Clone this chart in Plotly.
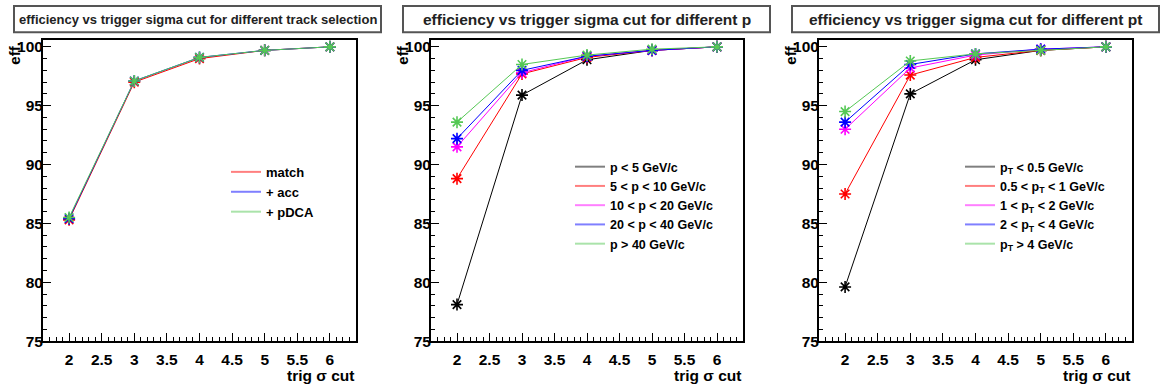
import plotly.graph_objects as go

## sigma cut values (x axis)
sigma_cut = [2, 3, 4, 5, 6]

## panel 1: track selection
sel_names = ['match', '+ acc', '+ pDCA']
sel_match = [85.3, 97.0, 99.0, 99.7, 100.0]
sel_acc = [85.4, 97.1, 99.1, 99.7, 100.0]
sel_pdca = [85.5, 97.1, 99.1, 99.7, 100.0]

## panel 2: p bins
p_names = ['p < 5 GeV/c', '5 < p < 10 GeV/c', '10 < p < 20 GeV/c',
           '20 < p < 40 GeV/c', 'p > 40 GeV/c']
p_lt5 = [78.1, 95.9, 98.9, 99.7, 100.0]
p_5_10 = [88.8, 97.7, 99.1, 99.7, 100.0]
p_10_20 = [91.5, 97.8, 99.2, 99.7, 100.0]
p_20_40 = [92.2, 98.0, 99.2, 99.7, 100.0]
p_gt40 = [93.6, 98.5, 99.3, 99.8, 100.0]

## panel 3: pt bins
pt_names = ['p<sub>T</sub> < 0.5 GeV/c', '0.5 < p<sub>T</sub> < 1 GeV/c',
            '1 < p<sub>T</sub> < 2 GeV/c', '2 < p<sub>T</sub> < 4 GeV/c',
            'p<sub>T</sub> > 4 GeV/c']
pt_lt05 = [79.6, 96.0, 98.9, 99.7, 100.0]
pt_05_1 = [87.5, 97.6, 99.1, 99.7, 100.0]
pt_1_2 = [93.0, 98.2, 99.3, 99.8, 100.0]
pt_2_4 = [93.6, 98.5, 99.4, 99.8, 100.0]
pt_gt4 = [94.5, 98.8, 99.4, 99.7, 100.0]

titles = ['efficiency vs trigger sigma cut for different track selection',
          'efficiency vs trigger sigma cut for different p',
          'efficiency vs trigger sigma cut for different pt']

W, H = 1161, 390
FONT = 'Liberation Sans, Arial, Helvetica, sans-serif'
GREEN = 'rgb(85,200,85)'

## frames in pixels (left, right), shared top/bottom
frames = [(43, 356), (431, 743), (819, 1132)]
top_px, bot_px = 39, 348
title_boxes = [(14, 381), (403, 770), (792, 1159)]

def px(x):
    return x / W

def py(y):
    return 1 - y / H

fig = go.Figure()

panels = [
    (list(zip(sel_names, [sel_match, sel_acc, sel_pdca], ['red', 'blue', GREEN]))),
    (list(zip(p_names, [p_lt5, p_5_10, p_10_20, p_20_40, p_gt40],
              ['black', 'red', 'magenta', 'blue', GREEN]))),
    (list(zip(pt_names, [pt_lt05, pt_05_1, pt_1_2, pt_2_4, pt_gt4],
              ['black', 'red', 'magenta', 'blue', GREEN]))),
]

legend_keys = ['legend', 'legend2', 'legend3']
for i, series in enumerate(panels):
    xa = 'x' if i == 0 else 'x%d' % (i + 1)
    ya = 'y' if i == 0 else 'y%d' % (i + 1)
    for name, vals, col in series:
        fig.add_trace(go.Scatter(x=sigma_cut, y=vals, mode='lines+markers',
                                 line=dict(color=col, width=1),
                                 marker=dict(symbol='asterisk-open', size=10,
                                             line=dict(color=col, width=1.6)),
                                 xaxis=xa, yaxis=ya, showlegend=False))
    ## legend-only entries (lines only, like ROOT)
    for name, vals, col in series:
        fig.add_trace(go.Scatter(x=[None], y=[None], mode='lines', name=name,
                                 line=dict(color=col, width=2), opacity=0.5,
                                 xaxis=xa, yaxis=ya, legend=legend_keys[i]))

axis_common = dict(showgrid=False, zeroline=False, showline=True, mirror=True,
                   linecolor='black', linewidth=2, ticks='inside',
                   tickcolor='black', tickwidth=1,
                   tickfont=dict(family=FONT, size=15.5, color='black', weight='bold'))

layout = dict(width=W, height=H, margin=dict(l=0, r=0, t=0, b=0),
              plot_bgcolor='white', paper_bgcolor='white',
              font=dict(family=FONT, color='black'))

for i, (l, r) in enumerate(frames):
    sfx = '' if i == 0 else str(i + 1)
    layout['xaxis' + sfx] = dict(axis_common, domain=[px(l), px(r)], range=[1.6, 6.4],
                                 tickvals=[2, 2.5, 3, 3.5, 4, 4.5, 5, 5.5, 6],
                                 ticktext=['2', '2.5', '3', '3.5', '4', '4.5', '5', '5.5', '6'],
                                 ticklen=8, anchor='y' + sfx, ticklabelstandoff=3,
                                 minor=dict(ticks='inside', dtick=0.1, tick0=0, ticklen=4,
                                            tickcolor='black', showgrid=False))
    layout['yaxis' + sfx] = dict(axis_common, domain=[py(bot_px), py(top_px)],
                                 range=[75, 100.58], dtick=5, tick0=75, ticklen=8,
                                 anchor='x' + sfx, ticklabelstandoff=-5,
                                 minor=dict(ticks='inside', dtick=1, ticklen=4,
                                            tickcolor='black', showgrid=False))

fig.update_layout(**layout)

## legends
leg_pos = [(226, 159, 13), (570, 154, 12.5), (960, 154, 12.5)]
for i, (lx, ly, fs) in enumerate(leg_pos):
    fig.update_layout({legend_keys[i]: dict(x=px(lx), y=py(ly), xanchor='left', yanchor='top',
                                            bgcolor='rgba(0,0,0,0)', itemwidth=30,
                                            font=dict(family=FONT, size=fs, color='black',
                                                      weight='bold'),
                                            tracegroupgap=0)})

shapes = []
annotations = []
title_sizes = [13, 15.5, 15.5]
for i, (l, r) in enumerate(title_boxes):
    shapes.append(dict(type='rect', xref='paper', yref='paper', x0=px(l), x1=px(r),
                       y0=py(31), y1=py(4), line=dict(color='#555555', width=2),
                       fillcolor='white'))
    annotations.append(dict(text=titles[i], xref='paper', yref='paper',
                            x=px((l + r) / 2), y=py(17.5), showarrow=False,
                            xanchor='center', yanchor='middle',
                            font=dict(family=FONT, size=title_sizes[i], color='#222222',
                                      weight='bold')))
    fl, fr = frames[i]
    annotations.append(dict(text='trig σ cut', xref='paper', yref='paper',
                            x=px(fr), y=py(383), showarrow=False,
                            xanchor='right', yanchor='middle',
                            font=dict(family=FONT, size=15.5, color='black', weight='bold')))
    annotations.append(dict(text='eff.', xref='paper', yref='paper', textangle=-90,
                            x=px(fl - 28), y=py(53), showarrow=False,
                            xanchor='center', yanchor='middle',
                            font=dict(family=FONT, size=15, color='black', weight='bold')))

fig.update_layout(shapes=shapes, annotations=annotations)

fig.write_html("out.html", config={'displayModeBar': False},
               post_script="document.body.style.margin='0px';")
